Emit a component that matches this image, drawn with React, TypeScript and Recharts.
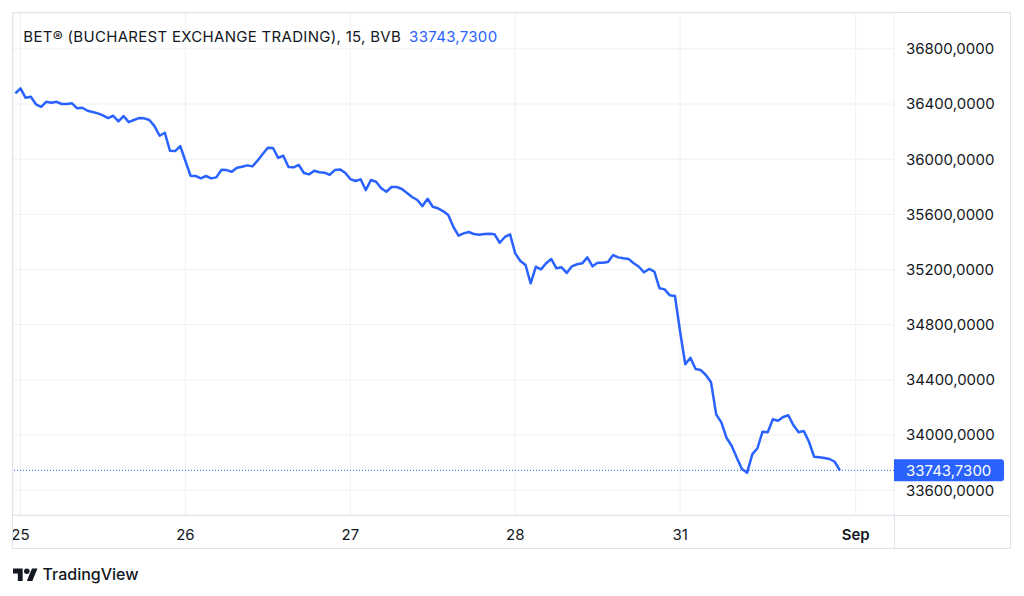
import React from 'react';
import { LineChart, Line, XAxis, YAxis, CartesianGrid, ReferenceLine } from 'recharts';

const TITLE = 'BET® (BUCHAREST EXCHANGE TRADING), 15, BVB';
const LAST_PRICE = 33743.73;
const BARS_PER_DAY = 32;

// 15-minute closes
const aug22Tail = [36477];
const aug25 = [36514, 36445, 36453, 36398, 36380, 36416, 36409, 36416, 36400, 36400, 36405, 36369, 36373, 36351, 36342, 36332, 36318, 36298, 36315, 36274, 36313, 36269, 36284, 36298, 36296, 36284, 36240, 36170, 36192, 36061, 36059, 36095];
const aug26 = [35987, 35880, 35878, 35861, 35878, 35861, 35868, 35923, 35921, 35909, 35938, 35945, 35955, 35948, 35989, 36037, 36083, 36081, 36010, 36025, 35943, 35941, 35958, 35900, 35890, 35916, 35905, 35902, 35887, 35921, 35926, 35902];
const aug27 = [35856, 35842, 35854, 35776, 35849, 35836, 35789, 35764, 35798, 35798, 35784, 35755, 35726, 35704, 35660, 35713, 35655, 35644, 35624, 35595, 35510, 35445, 35462, 35472, 35457, 35452, 35457, 35459, 35455, 35394, 35436, 35455];
const aug28 = [35317, 35262, 35233, 35100, 35220, 35201, 35245, 35276, 35209, 35216, 35175, 35223, 35238, 35245, 35288, 35223, 35249, 35249, 35254, 35305, 35288, 35281, 35276, 35245, 35220, 35180, 35204, 35184, 35064, 35056, 35013, 35008];
const aug31 = [34749, 34513, 34560, 34479, 34471, 34435, 34382, 34150, 34092, 33980, 33922, 33835, 33754, 33727, 33860, 33904, 34024, 34020, 34114, 34104, 34131, 34143, 34070, 34020, 34029, 33951, 33843, 33838, 33833, 33826, 33806, 33743.73];

const dayLabels = ['25', '26', '27', '28', '31', 'Sep'];
const dayTicks = [0, 1, 2, 3, 4, 5.065];
const priceTicks = [33600, 34000, 34400, 34800, 35200, 35600, 36000, 36400, 36800];

const sessions = [aug25, aug26, aug27, aug28, aug31];

const data = [
  ...aug22Tail.map((v, i) => ({ t: (i - aug22Tail.length) / BARS_PER_DAY, v })),
  ...sessions.flatMap((s, d) => s.map((v, j) => ({ t: d + j / BARS_PER_DAY, v }))),
];

const FONT = 'Inter, "Noto Sans", sans-serif';
const TEXT = '#131722';
const BLUE = '#2962FF';
const GRID = '#eef0f4';
const BORDER = '#e0e3eb';

const fmt = (v: number) => v.toFixed(4).replace('.', ',');

const XTick = (props: any) => {
  const { x, y, payload } = props;
  const idx = dayTicks.indexOf(payload.value);
  const label = idx >= 0 ? dayLabels[idx] : '';
  return (
    <text x={x} y={y + 25.4} textAnchor="middle" fill={TEXT} fontSize={15} fontFamily={FONT} fontWeight={label === 'Sep' ? 600 : 400}>
      {label}
    </text>
  );
};

const YTick = (props: any) => {
  const { x, y, payload } = props;
  return (
    <text x={x + 12} y={y + 5.4} textAnchor="start" fill={TEXT} fontSize={15} fontFamily={FONT}>
      {fmt(payload.value)}
    </text>
  );
};

const PriceLabel = (props: any) => {
  const vb = props.viewBox || {};
  const x = (vb.x || 0) + (vb.width || 0);
  const y = vb.y || 0;
  const w = 110;
  const h = 11;
  const r = 3;
  const d = `M ${x} ${y - h} H ${x + w - r} Q ${x + w} ${y - h} ${x + w} ${y - h + r} V ${y + h - r} Q ${x + w} ${y + h} ${x + w - r} ${y + h} H ${x} Z`;
  return (
    <g>
      <path d={d} fill={BLUE} />
      <text x={x + 12} y={y + 5.4} fill="#ffffff" fontSize={15} fontFamily={FONT}>
        {fmt(LAST_PRICE)}
      </text>
    </g>
  );
};

export default function App() {
  return (
    <div style={{ position: 'absolute', left: 0, top: 0, width: 1024, height: 596, background: '#ffffff', overflow: 'hidden' }}>
      <LineChart width={1024} height={596} data={data} margin={{ top: 13, left: 13, right: 12, bottom: 47 }}>
        <CartesianGrid stroke={GRID} strokeWidth={1} />
        <XAxis
          dataKey="t"
          type="number"
          domain={[-0.0455, 5.297]}
          ticks={dayTicks}
          allowDataOverflow
          height={34}
          tickSize={0}
          tickMargin={0}
          axisLine={false}
          tickLine={false}
          interval={0}
          tick={<XTick />}
        />
        <YAxis
          orientation="right"
          type="number"
          domain={[33420, 37060]}
          ticks={priceTicks}
          allowDataOverflow
          width={118}
          tickSize={0}
          tickMargin={0}
          axisLine={false}
          tickLine={false}
          interval={0}
          tick={<YTick />}
        />
        <ReferenceLine y={LAST_PRICE} stroke={BLUE} strokeWidth={1} strokeDasharray="1 2" label={<PriceLabel />} />
        <Line dataKey="v" type="linear" stroke={BLUE} strokeWidth={2.5} strokeLinejoin="round" dot={false} activeDot={false} isAnimationActive={false} />
      </LineChart>

      {/* frame and pane separators */}
      <div style={{ position: 'absolute', left: 12, top: 12, width: 999, height: 537, border: `1px solid ${BORDER}`, boxSizing: 'border-box', pointerEvents: 'none' }} />
      <div style={{ position: 'absolute', left: 12, top: 515, width: 999, height: 1, background: BORDER, pointerEvents: 'none' }} />
      <div style={{ position: 'absolute', left: 894, top: 515, width: 1, height: 34, background: BORDER, pointerEvents: 'none' }} />

      <svg width={1024} height={596} style={{ position: 'absolute', left: 0, top: 0, pointerEvents: 'none' }}>
        <text x={23.3} y={41.7} fontSize={15} letterSpacing={0.3} fontFamily={FONT} fill={TEXT}>
          <tspan>{TITLE}</tspan>
          <tspan dx={8} fill={BLUE}>{fmt(LAST_PRICE)}</tspan>
        </text>
        <g transform="translate(13 565.8) scale(0.69)" fill={TEXT}>
          <path d="M14 22H7V11H0V4h14v18z" />
          <circle cx="20" cy="8" r="4" />
          <path d="M28 22h-8l7.5-18h8L28 22z" />
        </g>
        <text x={42.5} y={580} fontSize={16} fontFamily={FONT} fill={TEXT} fontWeight={500}>TradingView</text>
      </svg>
    </div>
  );
}
